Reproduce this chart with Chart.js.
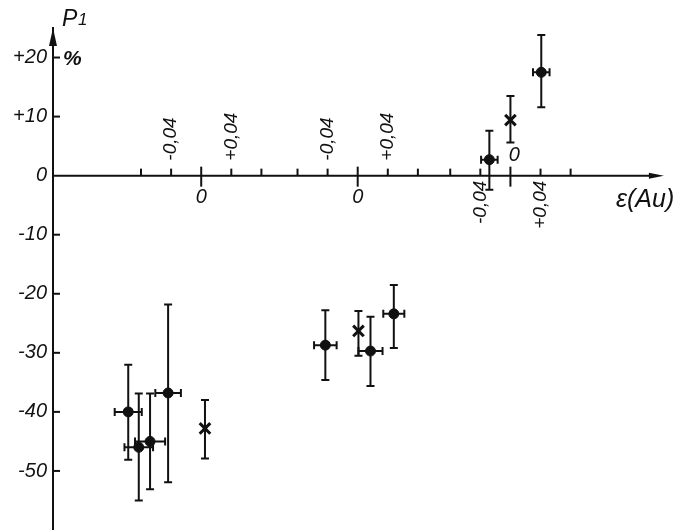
<!DOCTYPE html>
<html>
<head>
<meta charset="utf-8">
<script src="https://cdn.jsdelivr.net/npm/chart.js@4"></script>
<style>
  body { margin: 0; background: #fff; }
  .wrap { width: 694px; height: 530px; position: relative; }
</style>
</head>
<body>
<div class="wrap"><canvas id="grafico"></canvas></div>
<script>
// P1 (%) vs epsilon, three sub-scales on one broken epsilon axis (group 0, 1, 2)
const dotGroup = [0, 0, 0, 0, 1, 1, 1, 2, 2]
const dotEps = [-0.097, -0.083, -0.068, -0.044, -0.043, 0.017, 0.048, -0.028, 0.041]
const dotEpsErr = [0.018, 0.019, 0.02, 0.017, 0.015, 0.016, 0.014, 0.011, 0.011]
const dotP = [-40.0, -46.0, -45.0, -36.8, -28.7, -29.7, -23.4, 2.7, 17.5]
const dotPHigh = [-32.0, -36.9, -36.9, -21.8, -22.8, -23.9, -18.5, 7.6, 23.8]
const dotPLow = [-48.1, -55.0, -53.1, -51.9, -34.6, -35.6, -29.2, -2.4, 11.6]

const crossGroup = [0, 1, 2]
const crossEps = [0.005, 0.001, 0]
const crossP = [-42.8, -26.3, 9.4]
const crossPHigh = [-38.0, -22.9, 13.5]
const crossPLow = [-47.9, -30.5, 5.6]

const yTicks = [20, 10, 0, -10, -20, -30, -40, -50]
const yTickLabels = ['+20', '+10', '0', '-10', '-20', '-30', '-40', '-50']
const epsTicks = [-0.08, -0.04, 0.04, 0.08]
const epsLabelValues = [-0.04, 0.04]
const epsLabels = ['-0,04', '+0,04']

// where each sub-scale's zero sits on the shared axis, and which side its labels go
const groupOffset = [0, 0.208, 0.411]
const labelsAbove = [true, true, false]
const xAxisEnd = 0.615

const ink = '#111'
const italic = (size) => `italic ${size}px "Liberation Sans", Arial, sans-serif`

const axesAndBars = {
    id: 'axesAndBars',
    beforeDatasetsDraw(chart) {
        const { ctx, chartArea, scales: { x, y } } = chart
        const y0 = y.getPixelForValue(0)
        ctx.save()
        ctx.strokeStyle = ink
        ctx.fillStyle = ink
        ctx.lineWidth = 2

        // x axis with arrow
        const xEnd = x.getPixelForValue(xAxisEnd)
        ctx.beginPath()
        ctx.moveTo(chartArea.left, y0)
        ctx.lineTo(xEnd - 8, y0)
        ctx.stroke()
        ctx.beginPath()
        ctx.moveTo(xEnd, y0)
        ctx.lineTo(xEnd - 15, y0 - 3)
        ctx.lineTo(xEnd - 15, y0 + 3)
        ctx.closePath()
        ctx.fill()

        // y axis arrow head and inward ticks
        const left = chartArea.left
        ctx.beginPath()
        ctx.moveTo(left, chartArea.top)
        ctx.lineTo(left - 4, chartArea.top + 18)
        ctx.lineTo(left + 4, chartArea.top + 18)
        ctx.closePath()
        ctx.fill()
        yTicks.forEach(v => {
            if (v === 0) return
            const py = y.getPixelForValue(v)
            ctx.beginPath()
            ctx.moveTo(left, py)
            ctx.lineTo(left + 7, py)
            ctx.stroke()
        })

        // sub-scale ticks and labels
        groupOffset.forEach((off, g) => {
            epsTicks.forEach(e => {
                const px = x.getPixelForValue(off + e)
                ctx.beginPath()
                ctx.moveTo(px, y0)
                ctx.lineTo(px, y0 - 7)
                ctx.stroke()
            })
            const pc = x.getPixelForValue(off)
            ctx.beginPath()
            ctx.moveTo(pc, y0 - 9)
            ctx.lineTo(pc, y0 + 11)
            ctx.stroke()

            ctx.font = italic(19)
            ctx.textBaseline = 'middle'
            epsLabelValues.forEach((e, i) => {
                const px = x.getPixelForValue(off + e)
                ctx.save()
                if (labelsAbove[g]) {
                    ctx.translate(px, y0 - 15)
                    ctx.rotate(-Math.PI / 2)
                    ctx.textAlign = 'left'
                } else {
                    ctx.translate(px, y0 + 5)
                    ctx.rotate(-Math.PI / 2)
                    ctx.textAlign = 'right'
                }
                ctx.fillText(epsLabels[i], 0, 0)
                ctx.restore()
            })

            ctx.font = italic(20)
            ctx.textAlign = 'center'
            if (labelsAbove[g]) {
                ctx.fillText('0', pc, y0 + 22)
            } else {
                ctx.fillText('0', pc + 4, y0 - 20)
            }
        })

        // axis titles
        ctx.textAlign = 'left'
        ctx.textBaseline = 'alphabetic'
        ctx.font = italic(25)
        ctx.fillText('ε(Au)', 616, y0 + 31)
        ctx.font = italic(23)
        ctx.fillText('P', 62, 26)
        ctx.font = italic(17)
        ctx.fillText('1', 78, 25)
        ctx.font = 'bold ' + italic(21)
        ctx.fillText('%', 63, 65)

        // error bars
        const vBar = (px, hi, lo) => {
            const a = y.getPixelForValue(hi), b = y.getPixelForValue(lo)
            ctx.beginPath()
            ctx.moveTo(px, a); ctx.lineTo(px, b)
            ctx.moveTo(px - 4, a); ctx.lineTo(px + 4, a)
            ctx.moveTo(px - 4, b); ctx.lineTo(px + 4, b)
            ctx.stroke()
        }
        dotEps.forEach((e, i) => {
            const xv = groupOffset[dotGroup[i]] + e
            const px = x.getPixelForValue(xv)
            const py = y.getPixelForValue(dotP[i])
            vBar(px, dotPHigh[i], dotPLow[i])
            const l = x.getPixelForValue(xv - dotEpsErr[i])
            const r = x.getPixelForValue(xv + dotEpsErr[i])
            ctx.beginPath()
            ctx.moveTo(l, py); ctx.lineTo(r, py)
            ctx.moveTo(l, py - 4); ctx.lineTo(l, py + 4)
            ctx.moveTo(r, py - 4); ctx.lineTo(r, py + 4)
            ctx.stroke()
        })
        crossEps.forEach((e, i) => {
            const px = x.getPixelForValue(groupOffset[crossGroup[i]] + e)
            vBar(px, crossPHigh[i], crossPLow[i])
        })
        ctx.restore()
    }
}

const container = document.querySelector('#grafico')

new Chart(container.getContext('2d'), {
    type: 'scatter',
    data: {
        datasets: [
            {
                label: 'dots',
                data: dotEps.map((e, i) => ({ x: groupOffset[dotGroup[i]] + e, y: dotP[i] })),
                pointStyle: 'circle',
                pointRadius: 5,
                backgroundColor: ink,
                borderColor: ink,
                borderWidth: 1
            },
            {
                label: 'crosses',
                data: crossEps.map((e, i) => ({ x: groupOffset[crossGroup[i]] + e, y: crossP[i] })),
                pointStyle: 'crossRot',
                pointRadius: 7.5,
                borderColor: ink,
                borderWidth: 3
            }
        ]
    },
    options: {
        responsive: true,
        maintainAspectRatio: false,
        animation: false,
        clip: false,
        layout: { autoPadding: false, padding: { top: 28, right: 0, bottom: 0, left: 0 } },
        plugins: { legend: { display: false }, tooltip: { enabled: false } },
        scales: {
            x: { type: 'linear', display: false, min: -0.197, max: 0.655 },
            y: {
                type: 'linear',
                min: -60,
                max: 25,
                afterFit: (scale) => {
                    scale.width = 53
                    scale.paddingTop = 0
                    scale.paddingBottom = 0
                },
                afterBuildTicks: (scale) => { scale.ticks = yTicks.map(v => ({ value: v })) },
                grid: { drawOnChartArea: false, drawTicks: false },
                border: { display: true, color: ink, width: 2 },
                ticks: {
                    padding: 6,
                    color: ink,
                    font: { family: '"Liberation Sans", Arial, sans-serif', size: 20, style: 'italic' },
                    callback: (v) => yTickLabels[yTicks.indexOf(v)]
                }
            }
        }
    },
    plugins: [axesAndBars]
})
</script>
</body>
</html>
